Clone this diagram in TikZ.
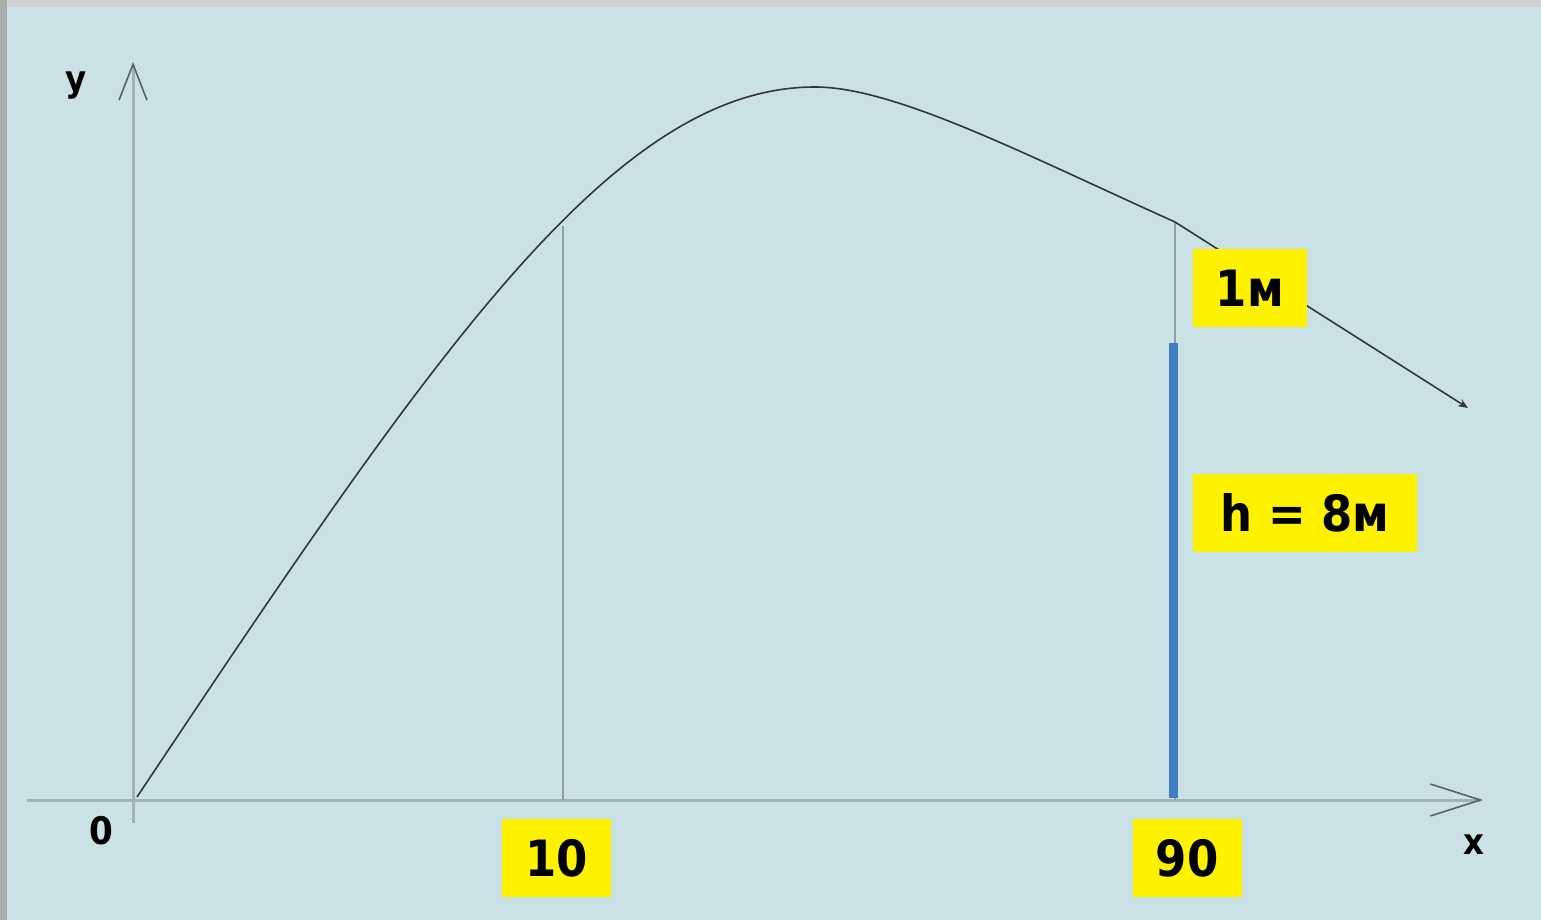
\documentclass[tikz,border=0pt]{standalone}
\usepackage{fontspec}
\newfontfamily\labelfont{DejaVu Sans}[FakeStretch=0.9]
\usetikzlibrary{arrows.meta}

\definecolor{paper}{RGB}{202,226,229}
\definecolor{frametop}{RGB}{208,208,208}
\definecolor{frameleft}{RGB}{172,172,172}
\definecolor{axisgrey}{RGB}{160,180,184}
\definecolor{guidegrey}{RGB}{140,160,165}
\definecolor{curvegrey}{RGB}{50,55,58}
\definecolor{barblue}{RGB}{62,126,192}

\tikzset{
    axis/.style={line width=1.5pt, draw=axisgrey},
    curve/.style={line width=0.8pt, draw=curvegrey},
    guide/.style={line width=0.6pt, draw=guidegrey},
    bar/.style={line width=4.5pt, draw=barblue},
    tag/.style={fill=yellow, inner sep=0pt, text height=18.5pt, text depth=0pt,
        minimum height=39pt, font=\labelfont\bfseries\fontsize{25}{30}\selectfont},
    axislabel/.style={inner sep=0pt, font=\labelfont\bfseries\fontsize{18}{22}\selectfont}
}

\begin{document}
\begin{tikzpicture}[x=0.5pt, y=-0.5pt]
    \useasboundingbox (0,0) rectangle (1541,920);
    \fill[paper] (0,0) rectangle (1541,920);
    \fill[frametop] (0,0) rectangle (1541,7);
    \fill[frameleft] (0,0) rectangle (7,920);
    % axes
    \coordinate (origin) at (133,800);
    \coordinate (xend) at (1483,800);
    \coordinate (yend) at (133,62);
    \draw[axis, -{Straight Barb[length=25pt, width=16pt, line width=0.8pt, color=axisgrey!55!black]}]
        (27,800) -- (xend);
    \draw[axis, -{Straight Barb[length=18pt, width=14pt, line width=0.8pt, color=axisgrey!55!black]}]
        (133,823) -- (yend);
    % guide lines and height bar
    \coordinate (top10) at (563,226);
    \coordinate (top90) at (1175,222);
    \draw[guide] (top10) -- (563,800);
    \draw[guide] (top90) -- (1175,800);
    \draw[bar] (1173,343) -- (1173,798);
    % trajectory
    \coordinate (launch) at (137,797);
    \coordinate (peak) at (815,87);
    \draw[curve, -{Stealth[length=5pt, width=4pt]}]
        (launch) .. controls (437,347) and (615,87) .. (peak)
        .. controls (895,87) and (1025,154.5) .. (top90)
        -- (1468,408);
    % labels
    \node[axislabel] (ylabel) at (76,86) {y};
    \node[axislabel, font=\labelfont\bfseries\fontsize{19}{22}\selectfont] (zero) at (101,831) {0};
    \node[axislabel] (xlabel) at (1474,845) {x};
    \node[tag, minimum width=54.5pt] (ten) at (556.5,858) {10};
    \node[tag, minimum width=54.5pt] (ninety) at (1187,858) {90};
    \node[tag, minimum width=57pt] (onem) at (1250,288) {1м};
    \node[tag, minimum width=112pt] (height) at (1305,513) {h = 8м};
\end{tikzpicture}
\end{document}
